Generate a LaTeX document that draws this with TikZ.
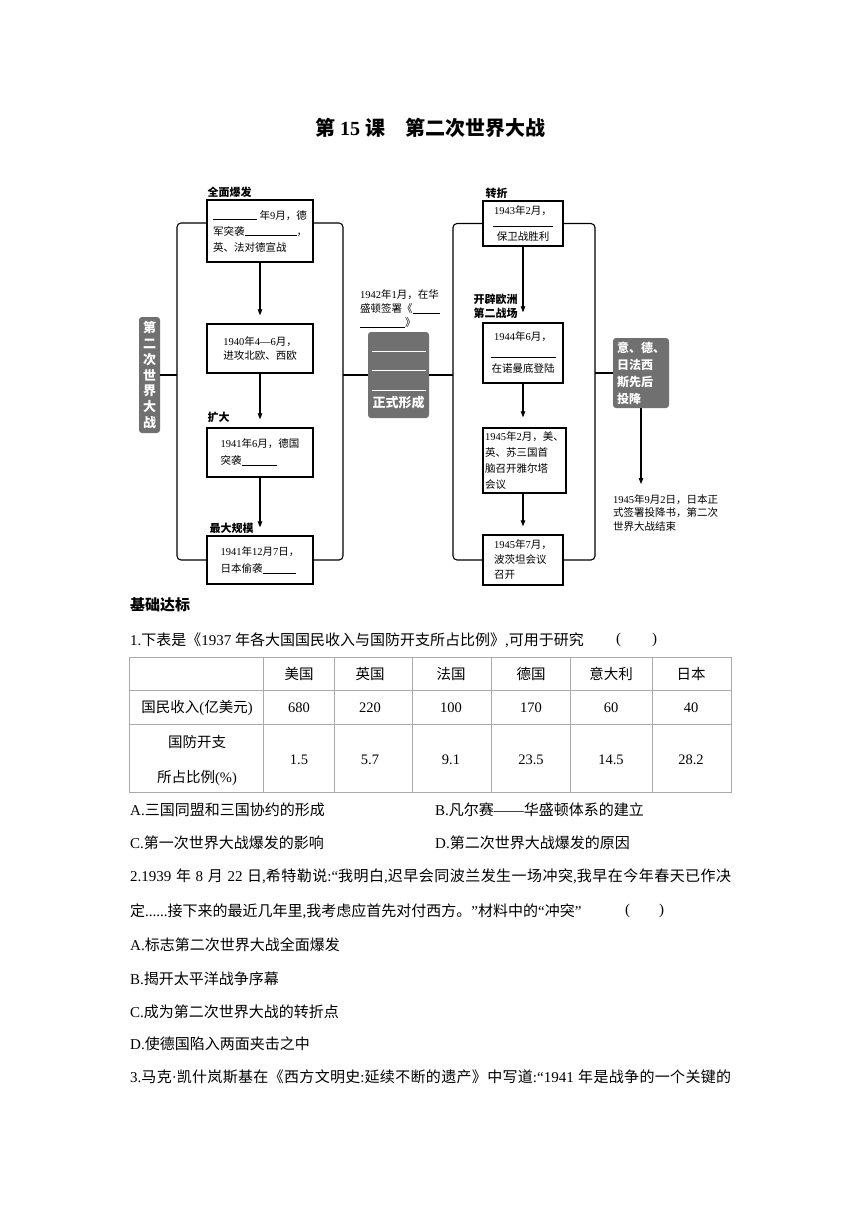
\documentclass[tikz,border=0pt]{standalone}
\usepackage{fontspec}
\usetikzlibrary{arrows.meta,positioning}
\setmainfont{Liberation Serif}
\newfontfamily\cjk{Noto Sans CJK SC}
\definecolor{tagfill}{RGB}{112,112,112}
\definecolor{rulegray}{RGB}{170,170,170}
% Han characters and full-width marks go to the CJK face
\chardef\hancls=7
\newcount\hanc
\hanc="3000 \loop\XeTeXcharclass\hanc=\hancls\advance\hanc by 1 \ifnum\hanc<"3040 \repeat
\hanc="4E00 \loop\XeTeXcharclass\hanc=\hancls\advance\hanc by 1 \ifnum\hanc<"A000 \repeat
\hanc="FF00 \loop\XeTeXcharclass\hanc=\hancls\advance\hanc by 1 \ifnum\hanc<"FFF0 \repeat
\XeTeXinterchartoks 0 \hancls = {\cjk}
\XeTeXinterchartoks 4095 \hancls = {\cjk}
\XeTeXinterchartoks \hancls 0 = {\rmfamily}
\XeTeXinterchartoks \hancls 4095 = {\rmfamily}
\XeTeXinterchartoks \hancls \hancls = {\hskip 0pt plus 1pt\relax}
\XeTeXinterchartokenstate=1
\newcommand\fillin[1]{\rule[-1pt]{#1}{0.6pt}}
\newcommand\fullline[1]{\makebox[601pt][s]{#1}}
\begin{document}
\begin{tikzpicture}[
		x=1pt,y=-1pt,
		box/.style={draw,line width=1.3pt,inner sep=0pt,align=left,font=\fontsize{10.5}{16}\selectfont},
		tag/.style={fill=tagfill,text=white,rounded corners=3pt,inner sep=0pt,font=\bfseries\fontsize{13}{15.8}\selectfont},
		cue/.style={inner sep=1pt,align=left,font=\bfseries\fontsize{11}{14}\selectfont},
		note/.style={inner sep=0pt,align=left,font=\fontsize{10.5}{14}\selectfont},
		link/.style={line width=1.1pt,rounded corners=4pt},
		flow/.style={line width=1.1pt,-{Triangle[length=6pt,width=4.5pt]},shorten >=8pt},
		grid/.style={draw=rulegray,line width=0.8pt},
		cell/.style={inner sep=0pt,font=\fontsize{14.5}{17}\selectfont},
		txt/.style={inner sep=0pt,anchor=west,font=\fontsize{15}{18}\selectfont}
	]
	\path[use as bounding box,fill=white] (0,0) rectangle (860,1216);

	\node[font=\bfseries\fontsize{20}{24}\selectfont] (title) at (430,128) {第 15 课\hspace{1em}第二次世界大战};

	\node[tag,minimum width=21,minimum height=116,align=center] (war) at (149.5,375) {第\\二\\次\\世\\界\\大\\战};

	\node[box,minimum width=106,minimum height=62] (b1) at (260,231) {\fillin{44pt} 年9月，德\\军突袭\fillin{52pt}，\\英、法对德宣战};
	\node[box,minimum width=106,minimum height=49,font=\fontsize{10.5}{14}\selectfont] (b2) at (260,348.5) {1940年4—6月，\\进攻北欧、西欧};
	\node[box,minimum width=106,minimum height=49,font=\fontsize{10.5}{17}\selectfont] (b3) at (260,452.5) {1941年6月，德国\\突袭\fillin{35pt}};
	\node[box,minimum width=106,minimum height=48,font=\fontsize{10.5}{17}\selectfont] (b4) at (260,560) {1941年12月7日，\\日本偷袭\fillin{33pt}};

	\node[cue,above=1pt of b1.north west,anchor=south west] (c1) {全面爆发};
	\node[cue,above=4pt of b3.north west,anchor=south west] (c2) {扩大};
	\node[cue,above=1pt of b4.north west,anchor=south west,xshift=2pt] (c3) {最大规模};

	\node[note,anchor=west] (pact) at (360,309) {1942年1月，在华\\盛顿签署《\fillin{27pt}\\\fillin{45pt}》};
	\node[tag,minimum width=61,minimum height=86,align=center,font=\bfseries\fontsize{13}{19.5}\selectfont] (form) at (398.5,375) {\rule{0pt}{10pt}\rule{54pt}{0.8pt}\\\rule{54pt}{0.8pt}\\\rule{54pt}{0.8pt}\\[-3pt]正式形成};

	\node[box,minimum width=80,minimum height=45,align=center,font=\fontsize{10.5}{13}\selectfont] (r1) at (523,223.5) {1943年2月，\\[-2pt]\fillin{60pt}\\[2pt]保卫战胜利};
	\node[box,minimum width=80,minimum height=60,align=center] (r2) at (523,353) {1944年6月，\\\fillin{65pt}\\在诺曼底登陆};
	\node[box,minimum width=83,minimum height=65,font=\fontsize{10.5}{15.7}\selectfont] (r3) at (524.5,460.5) {1945年2月，美、\\英、苏三国首\\脑召开雅尔塔\\会议};
	\node[box,minimum width=80,minimum height=50,font=\fontsize{10.5}{15}\selectfont] (r4) at (523,560) {1945年7月，\\波茨坦会议\\召开};

	\node[cue,above=1pt of r1.north west,anchor=south west,xshift=2pt] (c4) {转折};
	\node[cue,above=3pt of r2.north west,anchor=south west,xshift=-10pt] (c5) {开辟欧洲\\第二战场};

	\node[tag,minimum width=56,minimum height=70,align=left,font=\bfseries\fontsize{12}{17}\selectfont] (surr) at (641,373) {意、德、\\日法西\\斯先后\\投降};
	\node[note,anchor=north west,font=\fontsize{10.5}{13.5}\selectfont] (fin) at (613,494) {1945年9月2日，日本正\\式签署投降书，第二次\\世界大战结束};

	\coordinate (ls) at (177,223);
	\coordinate (rs) at (343,223);
	\coordinate (ls2) at (453,223);
	\coordinate (rs2) at (595,223);

	\draw[link] (b1.west |- ls) -- (ls) -- (ls |- b4.west) -- (b4.west);
	\draw[link] (b1.east |- rs) -- (rs) -- (rs |- b4.east) -- (b4.east);
	\draw[link] (war.east) -- (war.east -| ls);
	\draw[link] (rs |- form.west) -- (form.west);
	\draw[link] (r1.west) -- (r1.west -| ls2) -- (ls2 |- r4.west) -- (r4.west);
	\draw[link] (r1.east) -- (r1.east -| rs2) -- (rs2 |- r4.east) -- (r4.east);
	\draw[link] (form.east) -- (form.east -| ls2);
	\draw[link] (rs2 |- surr.west) -- (surr.west);

	\draw[flow] (b1) -- (b2);
	\draw[flow] (b2) -- (b3);
	\draw[flow] (b3) -- (b4);
	\draw[flow,shorten >=10pt] (r1) -- (r2);
	\draw[flow,shorten >=10pt] (r2.south) -- (r2.south |- r3.north);
	\draw[flow] (r4.north |- r3.south) -- (r4.north);
	\draw[flow,shorten >=10pt] (surr.south) -- (surr.south |- fin.north);

	\node[txt,font=\bfseries\fontsize{15}{18}\selectfont] (sec) at (130,605) {基础达标};
	\node[txt] (q1) at (130,640) {1.下表是《1937 年各大国国民收入与国防开支所占比例》,可用于研究};
	\node[txt] (q1k) at (616,640) {(\hspace{31pt})};

	\draw[grid] (129,657) rectangle (731,792);
	\foreach \gy in {690,724}
		\draw[grid] (129,\gy) -- (731,\gy);
	\foreach \gx in {263,334,412,491,570,652}
		\draw[grid] (\gx,657) -- (\gx,792);
	\foreach \cx/\cn/\inc/\pct [count=\i] in {299/美国/680/1.5,370/英国/220/5.7,451/法国/100/9.1,531/德国/170/23.5,611/意大利/60/14.5,691/日本/40/28.2}{
		\node[cell] (hd\i) at (\cx,674) {\cn};
		\node[cell] (inc\i) at (\cx,708) {\inc};
		\node[cell] (pct\i) at (\cx,760) {\pct};
	}
	\node[cell] (rowa) at (197,708) {国民收入(亿美元)};
	\node[cell,align=center,font=\fontsize{14.5}{35}\selectfont] (rowb) at (197,760) {国防开支\\所占比例(\%)};

	\node[txt] (o1a) at (130,810) {A.三国同盟和三国协约的形成};
	\node[txt] (o1b) at (435,810) {B.凡尔赛——华盛顿体系的建立};
	\node[txt] (o1c) at (130,843) {C.第一次世界大战爆发的影响};
	\node[txt] (o1d) at (435,843) {D.第二次世界大战爆发的原因};

	\node[txt] (q2) at (130,876) {\fullline{2.1939 年 8 月 22 日,希特勒说:“我明白,迟早会同波兰发生一场冲突,我早在今年春天已作决}};
	\node[txt] (q2b) at (130,911) {定......接下来的最近几年里,我考虑应首先对付西方。”材料中的“冲突”};
	\node[txt] (q2k) at (625,911) {(\hspace{29pt})};
	\node[txt] (o2a) at (130,945) {A.标志第二次世界大战全面爆发};
	\node[txt] (o2b) at (130,979) {B.揭开太平洋战争序幕};
	\node[txt] (o2c) at (130,1012) {C.成为第二次世界大战的转折点};
	\node[txt] (o2d) at (130,1044) {D.使德国陷入两面夹击之中};
	\node[txt] (q3) at (130,1077) {\fullline{3.马克·凯什岚斯基在《西方文明史:延续不断的遗产》中写道:“1941 年是战争的一个关键的}};
\end{tikzpicture}
\end{document}
